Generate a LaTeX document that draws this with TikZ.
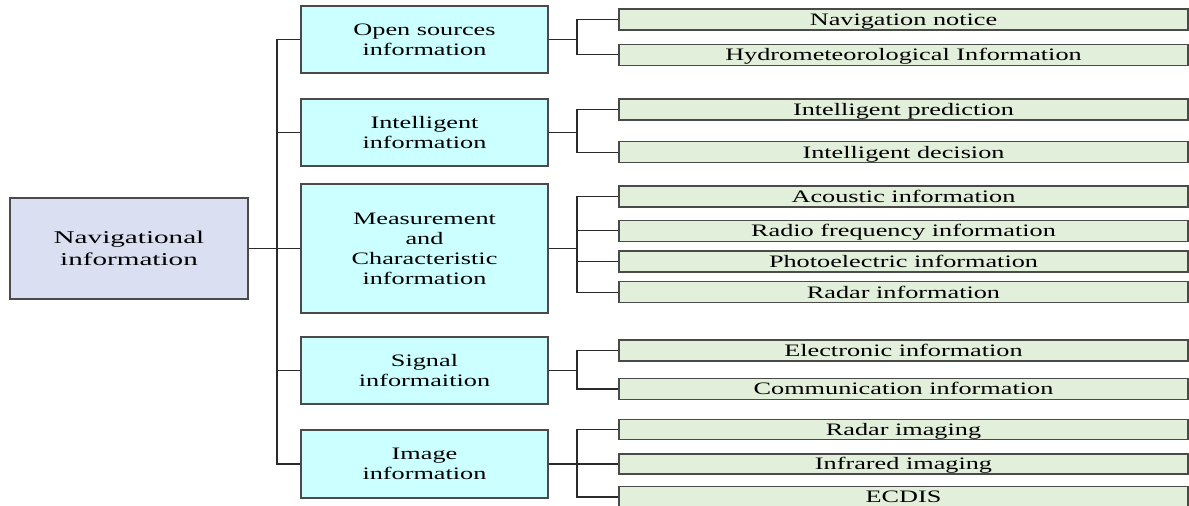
\documentclass[tikz,border=0pt]{standalone}
\usepackage{fontspec}
\setmainfont{Liberation Serif}
\usepackage{graphicx}
\definecolor{rootfill}{HTML}{DAE0F2}
\definecolor{midfill}{HTML}{CCFFFF}
\definecolor{leaffill}{HTML}{E2EFDA}
\definecolor{edgeline}{HTML}{2A2A2A}
% horizontally widened text lines
\newcommand\wideline[1]{\scalebox{1.5}[1]{#1}}
\newcommand\rootline[1]{\scalebox{1.62}[1]{#1}}
\tikzset{
  box/.style={draw=edgeline!85, line width=1.1pt, rectangle, inner sep=0pt, align=center,
    text depth=0pt, font=\fontsize{17.5}{20}\selectfont},
  rootbox/.style={box, fill=rootfill, minimum width=238pt, minimum height=101pt,
    font=\fontsize{18}{21.7}\selectfont},
  midbox/.style={box, fill=midfill, minimum width=247pt, minimum height=67pt},
  leafbox/.style={box, fill=leaffill, minimum width=569pt, minimum height=21pt,
    text height=11.8pt},
  link/.style={draw=edgeline, line width=1.1pt},
  stub/.style={draw=edgeline, line width=1.9pt},
}
\begin{document}
\begin{tikzpicture}[x=1pt, y=-1pt]
\useasboundingbox (0,0) rectangle (1189,506);

% root
\node[rootbox] (root) at (129,248.5) {\rootline{Navigational}\\\rootline{information}};

% second level
\node[midbox] (open) at (424.5,39.5) {\wideline{Open sources}\\\wideline{information}};
\node[midbox] (intel) at (424.5,132.5) {\wideline{Intelligent}\\\wideline{information}};
\node[midbox, minimum height=129pt] (meas) at (424.5,248.5)
  {\wideline{Measurement}\\\wideline{and}\\\wideline{Characteristic}\\\wideline{information}};
\node[midbox] (signal) at (424.5,370.5) {\wideline{Signal}\\\wideline{informaition}};
\node[midbox, minimum height=68pt] (image) at (424.5,464) {\wideline{Image}\\\wideline{information}};

% leaves
\node[leafbox] (nav)   at (903.5,19.5)  {\wideline{Navigation notice}};
\node[leafbox] (hydro) at (903.5,54.8)  {\wideline{Hydrometeorological Information}};
\node[leafbox] (pred)  at (903.5,109.5) {\wideline{Intelligent prediction}};
\node[leafbox] (dec)   at (903.5,152.2) {\wideline{Intelligent decision}};
\node[leafbox] (acou)  at (903.5,196.5) {\wideline{Acoustic information}};
\node[leafbox] (radio) at (903.5,230.7) {\wideline{Radio frequency information}};
\node[leafbox] (photo) at (903.5,261.5) {\wideline{Photoelectric information}};
\node[leafbox] (radar) at (903.5,292.2) {\wideline{Radar information}};
\node[leafbox] (elec)  at (903.5,350.5) {\wideline{Electronic information}};
\node[leafbox] (comm)  at (903.5,389)   {\wideline{Communication information}};
\node[leafbox, minimum height=20pt] (rimg) at (903.5,429.5) {\wideline{Radar imaging}};
\node[leafbox, minimum height=20pt] (ir)   at (903.5,464)   {\wideline{Infrared imaging}};
\node[leafbox] (ecdis) at (903.5,497)   {\wideline{ECDIS}};

% bus lines
\coordinate (tr) at (277,0);
\coordinate (br) at (577,0);

\draw[stub] (root.east) -- (root.east -| tr);
\foreach \m in {open,intel,meas,signal,image}
  \draw[link] (root.east -| tr) |- (\m.west);

\foreach \m/\ls in {open/{nav,hydro}, intel/{pred,dec}, meas/{acou,radio,photo,radar},
                    signal/{elec,comm}, image/{rimg,ir,ecdis}} {
  \draw[stub] (\m.east) -- (\m.east -| br);
  \foreach \l in \ls \draw[link] (\m.east -| br) |- (\l.west);
}
\end{tikzpicture}
\end{document}
